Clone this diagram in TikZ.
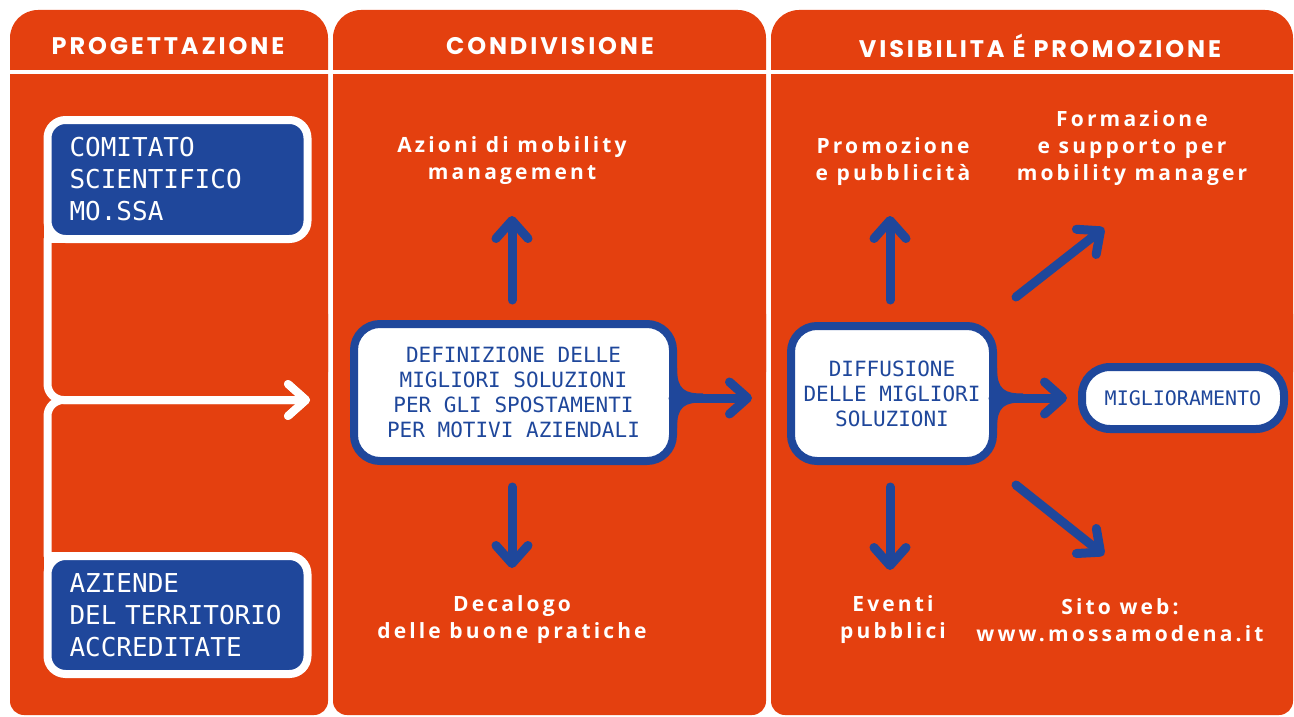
\documentclass[tikz,border=0pt]{standalone}
\usepackage{fontspec}
\usetikzlibrary{arrows.meta,calc,backgrounds}
\newfontfamily\headfont{Poppins}[LetterSpace=12]
\newfontfamily\labfont{Open Sans}[LetterSpace=15]
\newfontfamily\boxfont{DejaVu Sans Mono}
\definecolor{morange}{HTML}{E4400F}
\definecolor{mblue}{HTML}{1F479B}
\begin{document}
\begin{tikzpicture}[x=1pt,y=-1pt,
  panel/.style={fill=morange},
  bluebox/.style={draw=white, fill=mblue, line width=8pt, outer sep=0pt, rounded corners=18pt, text=white, align=left, inner xsep=22pt, inner ysep=0pt, font=\boxfont\fontsize{26}{32}\selectfont},
  whitebox/.style={draw=mblue, fill=white, line width=8pt, outer sep=0pt, rounded corners=26pt, text=mblue, align=center, inner sep=0pt, font=\boxfont\fontsize{21}{25}\selectfont},
  lab/.style={text=white, align=center, font=\labfont\bfseries\fontsize{21}{27}\selectfont},
  head/.style={text=white, font=\headfont\bfseries\fontsize{24}{26}\selectfont},
  barrow/.style={draw=mblue, line width=9pt, line cap=round, -{Straight Barb[length=18pt,width=32pt,round]}},
  warrow/.style={draw=white, line width=8pt, line cap=round, rounded corners=16pt, -{Straight Barb[length=18pt,width=32pt,round]}},
]
\useasboundingbox (0,0) rectangle (1294,717);
% panels
\begin{pgfonlayer}{background}
\fill[panel, rounded corners=28pt] (10,10) rectangle (328,400);
\fill[panel, rounded corners=14pt] (10,300) rectangle (328,715);
\fill[panel, rounded corners=28pt] (333,10) rectangle (766,400);
\fill[panel, rounded corners=14pt] (333,300) rectangle (766,715);
\fill[panel, rounded corners=28pt] (771,10) rectangle (1293,400);
\fill[panel, rounded corners=14pt] (771,300) rectangle (1293,715);
\draw[white, line width=4pt] (0,72) -- (1294,72);
\end{pgfonlayer}
% headers
\node[head] (h1) at (168,46) {PROGETTAZIONE};
\node[head] (h2) at (550,46) {CONDIVISIONE};
\node[head] (h3) at (1040,46) {VISIBILITA É PROMOZIONE};
% left column
\node[bluebox, minimum width=260pt, minimum height=119pt, text width=216pt] (com) at (177.5,179.5) {COMITATO\\SCIENTIFICO\\MO.SSA};
\node[bluebox, minimum width=260pt, minimum height=118pt, text width=216pt] (az) at (177.5,615) {AZIENDE\\DEL TERRITORIO\\ACCREDITATE};
\begin{pgfonlayer}{background}
\fill[white] ($(com.south west)+(-4,4)$) rectangle ($(com.south west)+(20,-20)$);
\fill[white] ($(az.north west)+(-4,-4)$) rectangle ($(az.north west)+(20,20)$);
\end{pgfonlayer}
\coordinate (wtip) at (310,400);
\draw[warrow] (com.south west) |- (wtip);
\draw[warrow] (az.north west) |- (wtip);
% middle column
\node[whitebox, minimum width=319pt, minimum height=137pt] (def) at (513.5,392.5) {DEFINIZIONE DELLE\\MIGLIORI SOLUZIONI\\PER GLI SPOSTAMENTI\\PER MOTIVI AZIENDALI};
\node[lab] (azioni) at (512,161) {Azioni di mobility\\management};
\node[lab] (decal) at (512,620) {Decalogo\\delle buone pratiche};
\coordinate (u2a) at (512,300); \coordinate (u2b) at (512,216);
\coordinate (d2a) at (512,487); \coordinate (d2b) at (512,568);
\draw[barrow] (u2a) -- (u2b);
\draw[barrow] (d2a) -- (d2b);
% right column
\node[whitebox, minimum width=202pt, minimum height=135pt] (diff) at (892,393.5) {DIFFUSIONE\\DELLE MIGLIORI\\SOLUZIONI};
\node[whitebox, minimum width=202pt, minimum height=62pt, rounded corners=28pt, font=\boxfont\fontsize{20}{24}\selectfont] (migl) at (1183,398) {MIGLIORAMENTO};
\node[lab] (promo) at (893,162) {Promozione\\e pubblicità};
\node[lab] (form) at (1132,148) {Formazione\\e supporto per\\mobility manager};
\node[lab] (event) at (893,620) {Eventi\\pubblici};
\node[lab] (sito) at (1120,620) {Sito web:\\www.mossamodena.it};
\coordinate (u3a) at (890,300); \coordinate (u3b) at (890,216);
\coordinate (d3a) at (890,487); \coordinate (d3b) at (890,570);
\coordinate (nea) at (1016,297); \coordinate (neb) at (1104,228);
\coordinate (sea) at (1016,485); \coordinate (seb) at (1104,555);
\draw[barrow] (u3a) -- (u3b);
\draw[barrow] (d3a) -- (d3b);
\draw[barrow] (nea) -- (neb);
\draw[barrow] (sea) -- (seb);
% horizontal connectors
\coordinate (t1) at (752,398);
\coordinate (f1) at (def.east |- t1);
\coordinate (f2) at (diff.east |- migl.west);
\begin{scope}[shift={(f1)}]
\fill[mblue] (0,-30) -- (4,-30) .. controls (4,-8) and (12,-4.5) .. (30,-4.5) -- (30,4.5) .. controls (12,4.5) and (4,8) .. (4,30) -- (0,30) -- cycle;
\end{scope}
\begin{scope}[shift={(f2)}]
\fill[mblue] (0,-30) -- (4,-30) .. controls (4,-8) and (12,-4.5) .. (30,-4.5) -- (30,4.5) .. controls (12,4.5) and (4,8) .. (4,30) -- (0,30) -- cycle;
\end{scope}
\draw[barrow] (f1) -- (t1);
\draw[barrow, shorten >=15pt] (f2) -- (migl.west);
\end{tikzpicture}
\end{document}
